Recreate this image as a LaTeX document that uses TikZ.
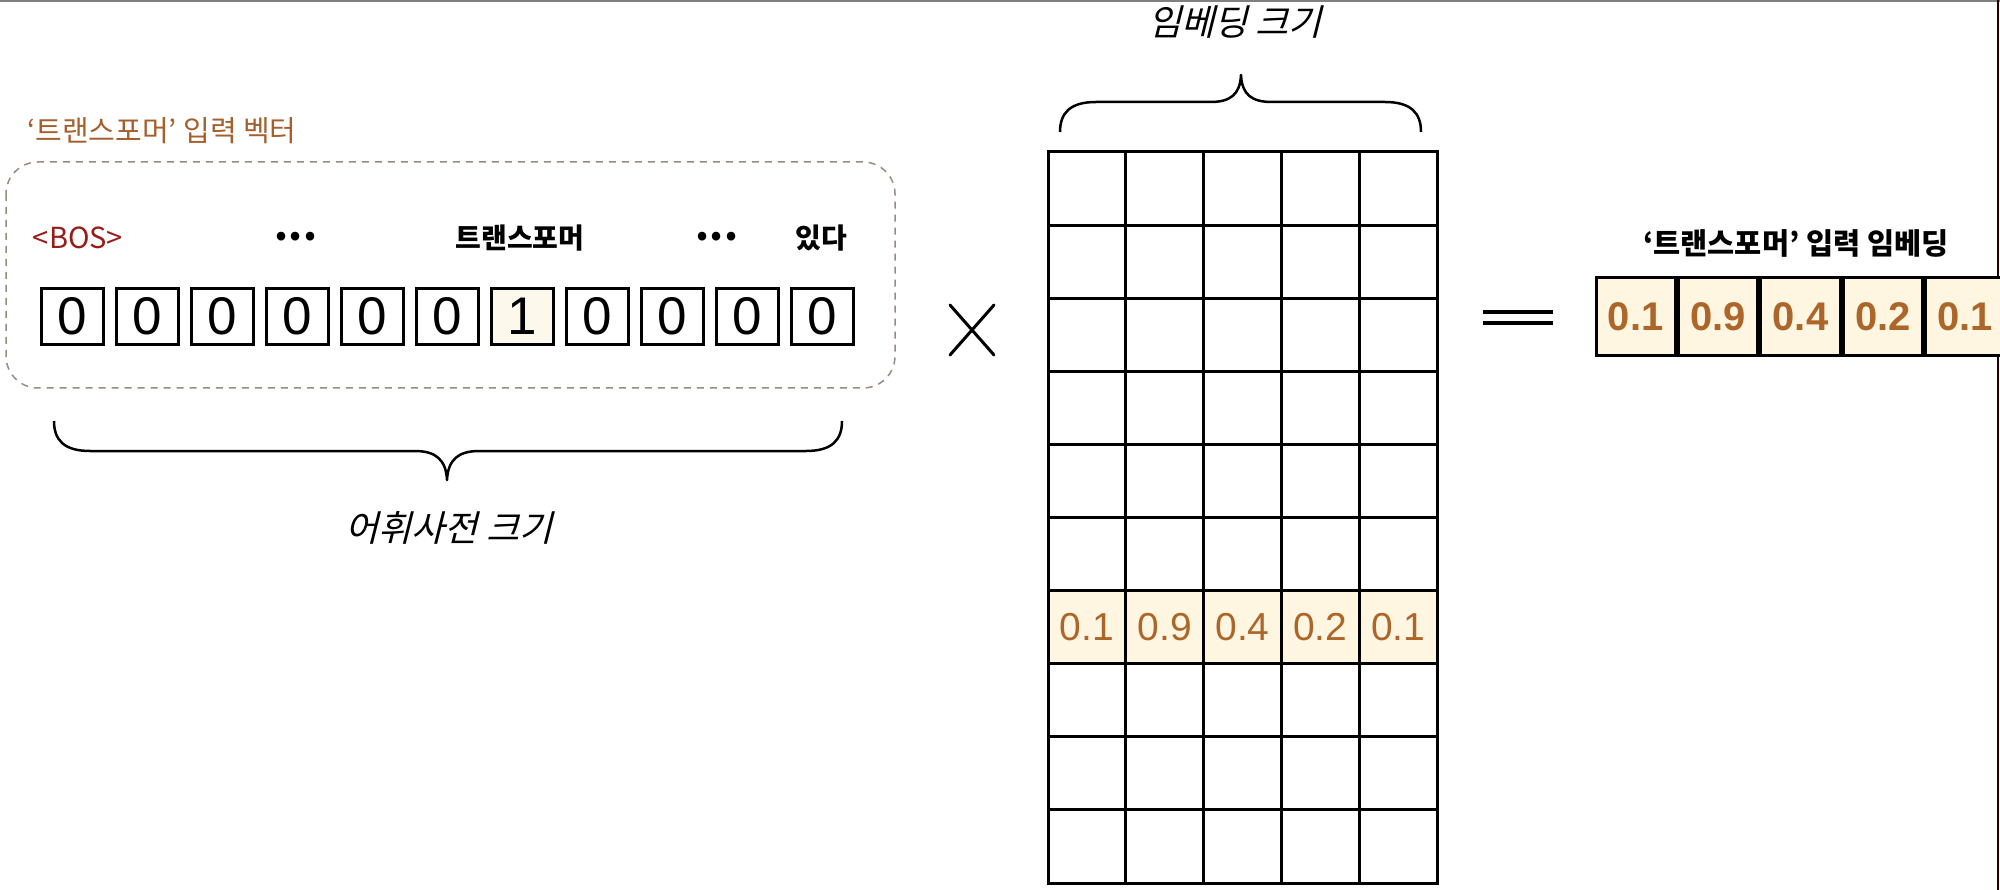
\documentclass[tikz,border=0pt]{standalone}
\usepackage{fontspec}
\setmainfont{Noto Sans CJK KR}
\newfontfamily\slantfont[FakeSlant=0.25]{Noto Sans CJK KR}
\newfontfamily\numfont{Liberation Sans}
\usetikzlibrary{positioning,calc}
\definecolor{bosred}{RGB}{150,30,25}
\definecolor{labelbrown}{RGB}{165,95,45}
\definecolor{valbrown}{RGB}{172,102,42}
\definecolor{cream}{RGB}{255,246,226}
\definecolor{onecream}{RGB}{252,248,236}
\definecolor{dashgray}{RGB}{150,140,130}

\begin{document}
\begin{tikzpicture}[x=1pt,y=-1pt,
	onehot/.style={draw, line width=3.5pt, minimum width=62pt, minimum height=56pt, inner sep=0pt, font=\numfont\fontsize{53}{53}\selectfont},
	token/.style={font=\bfseries\fontsize{28}{30}\selectfont},
	cell/.style={draw, line width=3pt, minimum width=77.8pt, minimum height=73.1pt, inner sep=0pt},
	embcell/.style={cell, fill=cream, text=valbrown, font=\numfont\fontsize{39}{39}\selectfont},
	outcell/.style={draw, line width=3pt, minimum width=79.4pt, minimum height=78pt, inner sep=0pt, fill=cream, text=valbrown, font=\numfont\bfseries\fontsize{40}{40}\selectfont},
	sizelabel/.style={font=\slantfont\fontsize{36}{38}\selectfont},
	curlybrace/.style={line width=2.5pt, line join=round}]
			\useasboundingbox (0,0) rectangle (2000,890);
			\draw[line width=2pt, gray] (0,1) -- (2000,1);
			\draw[line width=2pt, black!85!red] (1998,0) -- (1998,890);

			\node at (162,131) [text=labelbrown, font=\fontsize{29}{31}\selectfont] (veclabel) {`트랜스포머' 입력 벡터};
			\draw[dashgray, line width=1.5pt, dash pattern=on 7pt off 6pt, rounded corners=32pt] (6,162) rectangle (895,388);
			\node at (78,238) [token, font=\fontsize{29}{31}\selectfont, text=bosred] (bos) {<BOS>};
			\node at (296,237) [token, font=\bfseries\fontsize{40}{40}\selectfont] (dotsa) {...};
			\node at (520,238) [token] (tok) {트랜스포머};
			\node at (717,237) [token, font=\bfseries\fontsize{40}{40}\selectfont] (dotsb) {...};
			\node at (821,238) [token] (last) {있다};
			\foreach \val/\col [count=\i from 0] in {0/white,0/white,0/white,0/white,0/white,0/white,1/onecream,0/white,0/white,0/white,0/white}
				\node at (72.5+75*\i,316.5) [onehot, fill=\col] (v\i) {\val};
			\draw[curlybrace] (54,421) .. controls (54,440) and (64,451) .. (90,451) -- (415,451) .. controls (436,451) and (446,460) .. (447,480) .. controls (448,460) and (458,451) .. (479,451) -- (806,451) .. controls (832,451) and (842,440) .. (842,421);
			\node at (449,528) [sizelabel] (vocabsize) {어휘사전 크기};

			\draw[line width=3pt, line cap=round] (950,305) -- (994,355) (950,355) -- (994,305);

			\node at (1235,22) [sizelabel] (embsize) {임베딩 크기};
			\draw[curlybrace] (1060,132) .. controls (1060,113) and (1070,102) .. (1096,102) -- (1210,102) .. controls (1230,102) and (1240,95) .. (1241,75) .. controls (1242,95) and (1252,102) .. (1272,102) -- (1385,102) .. controls (1411,102) and (1421,113) .. (1421,132);
			\foreach \r in {0,...,9}
				\foreach \c in {0,...,4}
					\node at (1086.9+77.8*\c,188.55+73.1*\r) [cell] (m\r\c) {};
			\foreach \v [count=\c from 0] in {0.1,0.9,0.4,0.2,0.1}
				\node at (m6\c) [embcell] (e\c) {\v};

			\draw[line width=4pt] (1483,312) -- (1553,312) (1483,323) -- (1553,323);

			\node at (1796,243) [font=\bfseries\fontsize{29.5}{31}\selectfont] (outlabel) {`트랜스포머' 입력 임베딩};
			\node at (1635.7,317) [outcell] (o0) {0.1};
			\node [outcell, right=0pt of o0] (o1) {0.9};
			\node [outcell, right=0pt of o1] (o2) {0.4};
			\node [outcell, right=0pt of o2] (o3) {0.2};
			\node [outcell, right=0pt of o3] (o4) {0.1};
\end{tikzpicture}
\end{document}
